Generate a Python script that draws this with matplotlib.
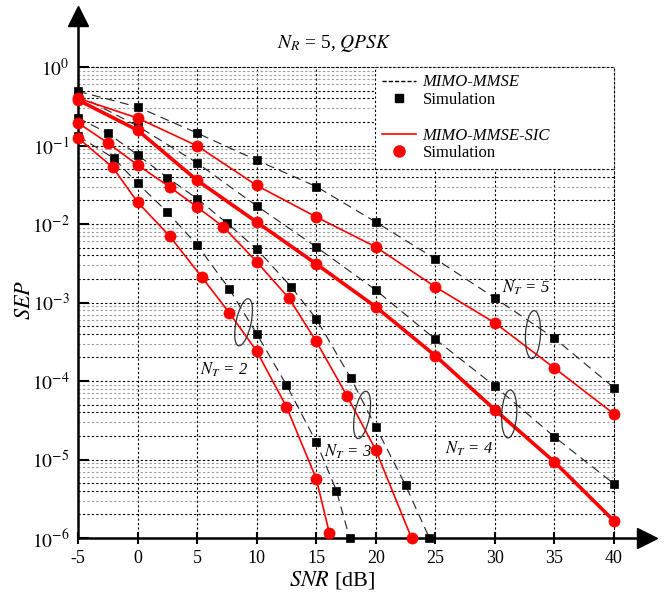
import numpy as np
import matplotlib
matplotlib.use("Agg")
import matplotlib.pyplot as plt
import matplotlib.transforms as mtransforms
from matplotlib.patches import Ellipse
from matplotlib.lines import Line2D

plt.rcParams["font.family"] = ["Liberation Serif", "DejaVu Serif"]
plt.rcParams["mathtext.fontset"] = "stix"

# MIMO-MMSE simulation points (black squares, dashed lines)
snr_mmse_nt5 = [-5, 0, 5, 10, 15, 20, 25, 30, 35, 40]
sep_mmse_nt5 = [4.9e-1, 3.1e-1, 1.44e-1, 6.5e-2, 3.0e-2, 1.06e-2, 3.6e-3, 1.14e-3, 3.5e-4, 8.2e-5]
snr_mmse_nt4 = [-5, 0, 5, 10, 15, 20, 25, 30, 35, 40]
sep_mmse_nt4 = [4.4e-1, 1.77e-1, 6.0e-2, 1.7e-2, 5.1e-3, 1.44e-3, 3.4e-4, 8.6e-5, 1.94e-5, 4.9e-6]
snr_mmse_nt3 = [-5, -2.5, 0, 2.5, 5, 7.5, 10, 12.9, 15, 17.9, 20, 22.5, 24.5]
sep_mmse_nt3 = [2.24e-1, 1.44e-1, 7.6e-2, 3.9e-2, 2.1e-2, 1.03e-2, 4.8e-3, 1.58e-3, 6.2e-4,
                1.09e-4, 2.6e-5, 4.7e-6, 1.0e-6]
snr_mmse_nt2 = [-5, -2, 0, 2.5, 5, 7.7, 10, 12.5, 15, 16.7, 17.8]
sep_mmse_nt2 = [1.32e-1, 6.9e-2, 3.3e-2, 1.42e-2, 5.4e-3, 1.49e-3, 4.0e-4, 8.9e-5, 1.67e-5,
                4.0e-6, 1.0e-6]

# MIMO-MMSE-SIC simulation points (red circles, solid lines)
snr_sic_nt5 = [-5, 0, 5, 10, 15, 20, 25, 30, 35, 40]
sep_sic_nt5 = [4.0e-1, 2.24e-1, 9.9e-2, 3.1e-2, 1.23e-2, 5.1e-3, 1.58e-3, 5.5e-4, 1.46e-4, 3.8e-5]
snr_sic_nt4 = [-5, 0, 5, 10, 15, 20, 25, 30, 35, 40]
sep_sic_nt4 = [3.8e-1, 1.57e-1, 3.6e-2, 1.06e-2, 3.1e-3, 8.8e-4, 2.1e-4, 4.3e-5, 9.3e-6, 1.65e-6]
snr_sic_nt3 = [-5, -2.5, 0, 2.7, 5, 7.2, 10, 12.7, 15, 17.6, 20, 23.0]
sep_sic_nt3 = [1.94e-1, 1.08e-1, 5.65e-2, 2.96e-2, 1.65e-2, 9.2e-3, 3.3e-3, 1.14e-3, 3.2e-4,
               6.4e-5, 1.32e-5, 1.0e-6]
snr_sic_nt2 = [-5, -2.1, 0, 2.7, 5.4, 7.7, 10, 12.5, 15, 16.1]
sep_sic_nt2 = [1.25e-1, 5.3e-2, 1.9e-2, 7.0e-3, 2.1e-3, 7.4e-4, 2.4e-4, 4.7e-5, 5.7e-6, 1.16e-6]

x_ticks = [-5, 0, 5, 10, 15, 20, 25, 30, 35, 40]
y_ticks = [1e-6, 1e-5, 1e-4, 1e-3, 1e-2, 1e-1, 1e0]
y_tick_labels = [r"$10^{-6}$", r"$10^{-5}$", r"$10^{-4}$", r"$10^{-3}$",
                 r"$10^{-2}$", r"$10^{-1}$", r"$10^{0}$"]

# N_T labels and ellipses: (snr, sep, text)
nt_labels = [(7.3, 1.38e-4, "2"), (17.7, 1.25e-5, "3"), (27.8, 1.36e-5, "4"), (32.6, 1.53e-3, "5")]
ellipses = [(8.9, 5.6e-4, -12), (18.85, 3.7e-5, -10), (31.2, 3.8e-5, -3), (33.2, 3.9e-4, -3)]

fig = plt.figure(figsize=(6.64, 5.99), dpi=100)
ax = fig.add_axes([78 / 664, 1 - 538 / 599, 536 / 664, 471 / 599])
ax.set_yscale("log")
ax.set_xlim(-5, 40)
ax.set_ylim(1e-6, 1)

# grid
dot = (0, (2, 2))
for xv in x_ticks[1:-1]:
    ax.axvline(xv, color="black", lw=0.8, ls=dot, zorder=0)
for k in range(-6, 0):
    for m in range(2, 10):
        col = "black" if m in (2, 4, 5) else "#999999"
        ax.axhline(m * 10.0 ** k, color=col, lw=0.8, ls=dot, zorder=0)
    if k > -6:
        ax.axhline(10.0 ** k, color="black", lw=0.8, ls=dot, zorder=0)

dash_kw = dict(color="#222222", lw=0.8, dashes=(8, 5), marker="s", ms=6, mew=0.5,
               mfc="black", mec="black", clip_on=False, zorder=3)
ax.plot(snr_mmse_nt5, sep_mmse_nt5, **dash_kw)
ax.plot(snr_mmse_nt4, sep_mmse_nt4, **dash_kw)
ax.plot(snr_mmse_nt3, sep_mmse_nt3, **dash_kw)
ax.plot(snr_mmse_nt2, sep_mmse_nt2, **dash_kw)

red_kw = dict(color="red", marker="o", ms=8, mew=0.5, clip_on=False, zorder=4)
ax.plot(snr_sic_nt5, sep_sic_nt5, lw=1.2, **red_kw)
ax.plot(snr_sic_nt4, sep_sic_nt4, lw=2.6, **red_kw)
ax.plot(snr_sic_nt3, sep_sic_nt3, lw=1.2, **red_kw)
ax.plot(snr_sic_nt2, sep_sic_nt2, lw=1.2, **red_kw)

for sx, sy, ang in ellipses:
    tr = fig.dpi_scale_trans + mtransforms.ScaledTranslation(sx, sy, ax.transData)
    ax.add_patch(Ellipse((0, 0), 0.15, 0.48, angle=ang, fill=False, ec="#333333",
                         lw=0.9, transform=tr, zorder=5))
for sx, sy, n in nt_labels:
    ax.text(sx, sy, r"$N_T$ = " + n, fontsize=12, ha="center", va="center",
            style="italic", zorder=6)

# spines and arrows
for s in ["top", "right"]:
    ax.spines[s].set_linestyle(dot)
    ax.spines[s].set_linewidth(0.8)
ax.spines["left"].set_visible(False)
ax.spines["bottom"].set_visible(False)
ax.plot([0, 0], [0, 1.095], transform=ax.transAxes, color="black", lw=1.8, clip_on=False)
ax.plot([0, 1.05], [0, 0], transform=ax.transAxes, color="black", lw=1.8, clip_on=False)
ax.plot([0], [1.108], transform=ax.transAxes, marker="^", ms=14, color="black", clip_on=False)
ax.plot([1.062], [0], transform=ax.transAxes, marker=">", ms=14, color="black", clip_on=False)

ax.set_xticks(x_ticks)
ax.set_xticklabels([str(v) for v in x_ticks], fontsize=13)
ax.set_yticks(y_ticks)
ax.set_yticklabels(y_tick_labels, fontsize=14)
ax.yaxis.set_minor_locator(matplotlib.ticker.NullLocator())
ax.tick_params(axis="x", direction="inout", length=9, width=1.5, pad=4)
ax.tick_params(axis="y", direction="in", length=8, width=1.5, pad=6)

ax.set_xlabel(r"$SNR$ [dB]", fontsize=16)
ax.xaxis.set_label_coords(0.474, -0.066)
ax.set_ylabel(r"$SEP$", fontsize=16)
ax.yaxis.set_label_coords(-0.08, 0.505)
ax.text(0.479, 1.05, r"$N_R$ = 5, $QPSK$", transform=ax.transAxes, ha="center",
        va="center", fontsize=14)

# legend
handles = [
    Line2D([], [], color="black", lw=1.0, dashes=(3, 1.5)),
    Line2D([], [], ls="none", marker="s", ms=6, color="black"),
    Line2D([], [], ls="none"),
    Line2D([], [], color="red", lw=1.2),
    Line2D([], [], ls="none", marker="o", ms=8, color="red"),
]
labels = ["MIMO-MMSE", "Simulation", "", "MIMO-MMSE-SIC", "Simulation"]
leg = ax.legend(handles, labels, loc="upper left", bbox_to_anchor=(0.554, 0.781, 0.446, 0.219),
                mode="expand", fontsize=12, handlelength=2.0, handletextpad=0.4,
                labelspacing=0.1, borderpad=0.45, fancybox=False, framealpha=1,
                edgecolor="black", borderaxespad=0)
leg.get_frame().set_linestyle(dot)
leg.get_frame().set_linewidth(0.8)
leg.set_zorder(7)
for i in (0, 3):
    leg.get_texts()[i].set_style("italic")

fig.savefig("out.png", dpi=100)
